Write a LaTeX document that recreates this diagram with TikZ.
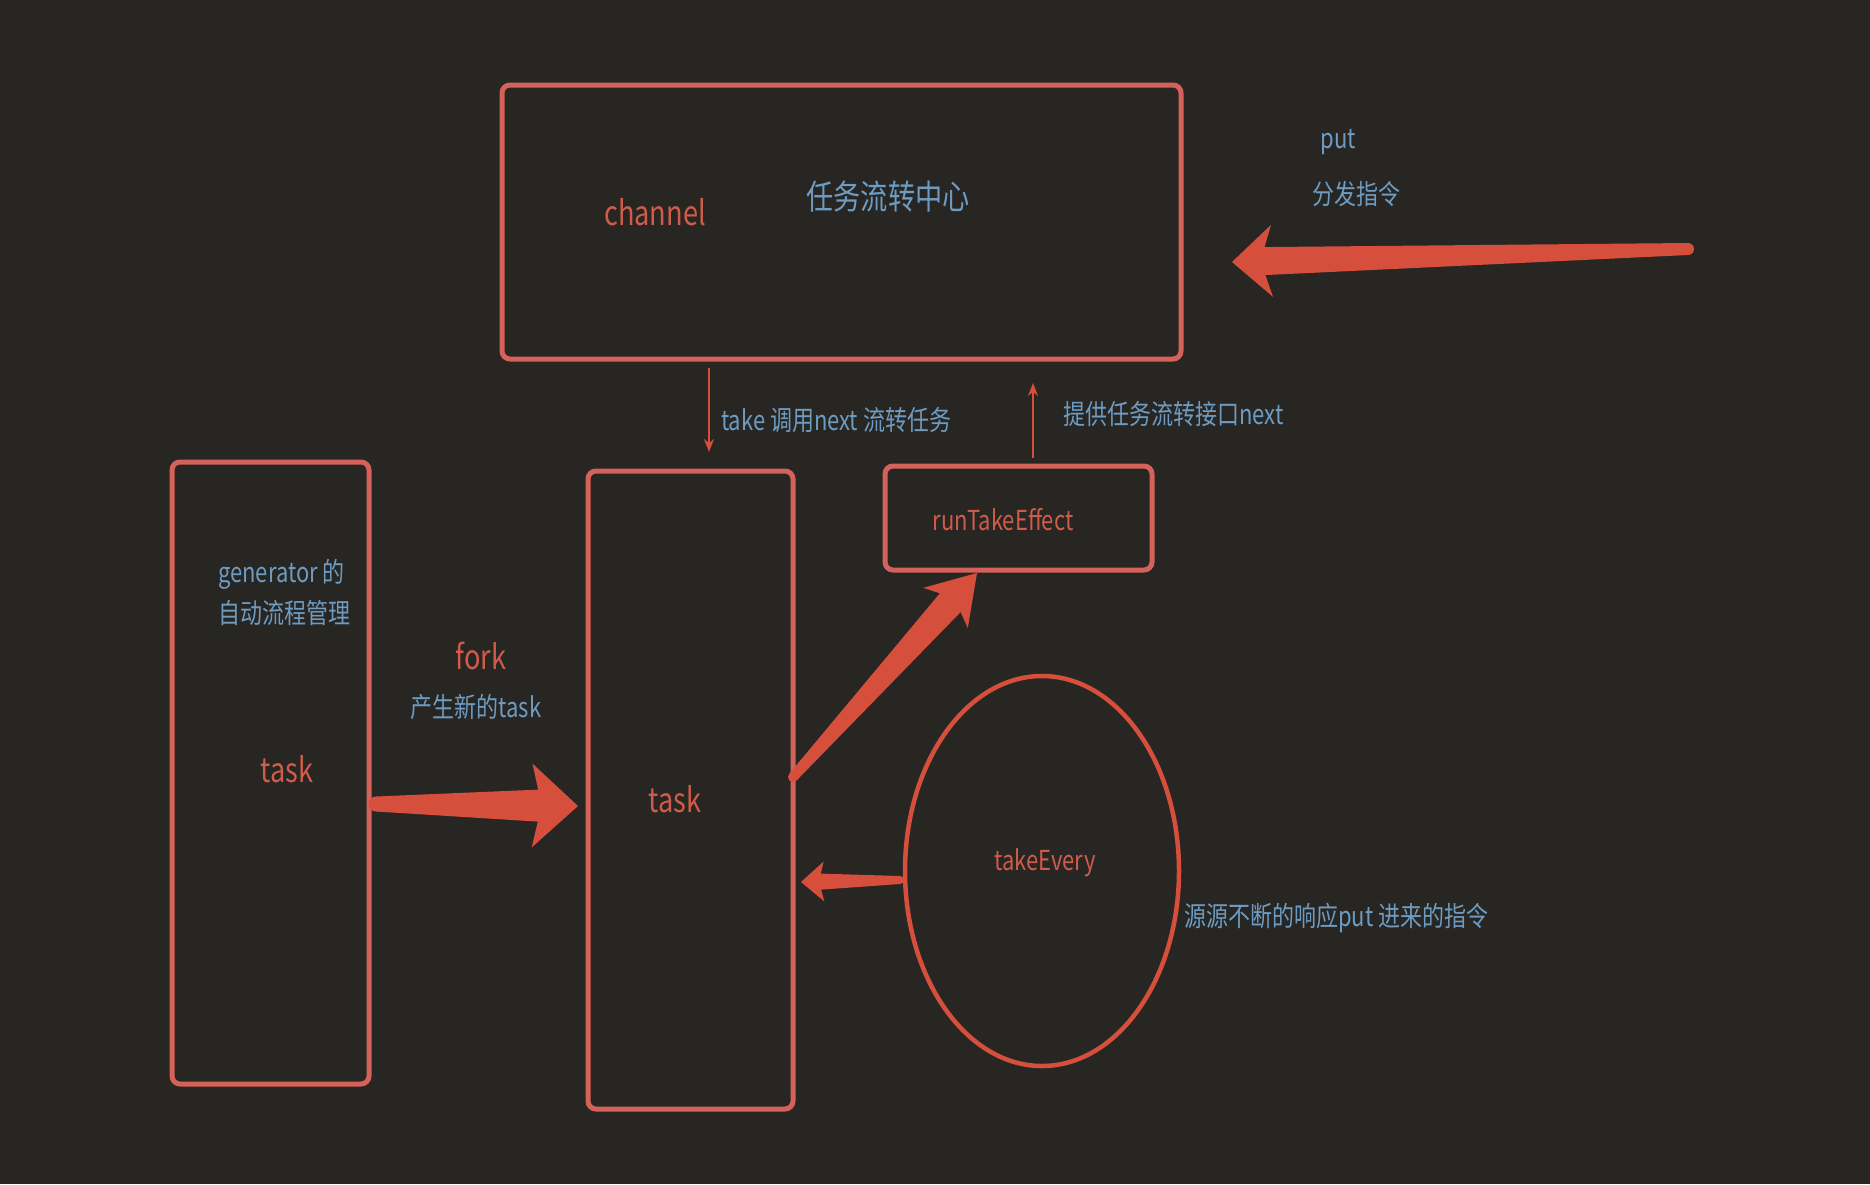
\documentclass[tikz,border=0pt]{standalone}
\usepackage{fontspec}
\setmainfont{Noto Sans CJK SC}[FakeStretch=0.8]
\usetikzlibrary{calc,arrows.meta,shapes.geometric}
\definecolor{bg}{HTML}{272623}
\definecolor{boxred}{HTML}{D4625A}
\definecolor{arrred}{HTML}{D64F3C}
\definecolor{txtblue}{HTML}{6E9BC1}
\definecolor{txtred}{HTML}{CF5B4B}
% #1 tail, #2 tip, #3 tail half width, #4 shaft half width at join,
% #5 join distance from tip, #6 barb distance from tip, #7 head half width
\newcommand\fatarr[7]{%
  \coordinate (fj) at ($(#2)!#5!(#1)$);
  \coordinate (fb) at ($(#2)!#6!(#1)$);
  \fill[arrred] ($(#1)!#3!90:(#2)$) -- ($(fj)!#4!90:(#2)$) -- ($(fb)!#7!90:(#2)$)
     -- (#2) -- ($(fb)!#7!-90:(#2)$) -- ($(fj)!#4!-90:(#2)$) -- ($(#1)!#3!-90:(#2)$) -- cycle;
  \fill[arrred] (#1) circle (#3);
}
\tikzset{
  box/.style={draw=boxred, line width=5pt, rounded corners=8pt, inner sep=0pt, outer sep=0pt},
  oval/.style={ellipse, draw=arrred, line width=4.5pt, inner sep=0pt, outer sep=0pt},
  big/.style={inner sep=0pt, font=\fontsize{34}{40}\selectfont},
  small/.style={inner sep=0pt, font=\fontsize{27.5}{41}\selectfont},
  thinarr/.style={draw=arrred, line width=2.5pt, -{Stealth[length=13pt,width=10pt]}},
}
\begin{document}
\begin{tikzpicture}[x=1pt,y=-1pt]
\fill[bg] (0,0) rectangle (1870,1184);
\useasboundingbox (0,0) rectangle (1870,1184);

% boxes
\node[box, minimum width=679pt, minimum height=274pt] (channel) at (841.5,222) {};
\node[box, minimum width=197pt, minimum height=622pt] (lefttask) at (270.5,773) {};
\node[box, minimum width=205pt, minimum height=638pt] (midtask) at (690.5,790) {};
\node[box, minimum width=267pt, minimum height=104pt] (rte) at (1018.5,518) {};
\node[oval, minimum width=274pt, minimum height=390pt] (every) at (1042,871) {};

% texts
\node[big, text=txtred] (tchannel) at (655,212) {channel};
\node[big, text=txtblue] (tcenter) at (888,197) {任务流转中心};
\node[small, text=txtblue] (tput) at (1338,142) {put};
\node[small, text=txtblue] (tdispatch) at (1356,194) {分发指令};
\node[small, text=txtblue, anchor=west] (ttake) at (721,420) {take 调用next 流转任务};
\node[small, text=txtblue, anchor=west] (tprovide) at (1063,414) {提供任务流转接口next};
\node[small, text=txtred] (trte) at (1003,520) {runTakeEffect};
\node[small, text=txtblue, anchor=west, align=left] (tgen) at (218,592) {generator 的\\自动流程管理};
\node[big, text=txtred] (tlefttask) at (287,769) {task};
\node[big, text=txtred] (tfork) at (481,656) {fork};
\node[small, text=txtblue] (tnew) at (476,707) {产生新的task};
\node[big, text=txtred] (tmidtask) at (675,799) {task};
\node[small, text=txtred] (tevery) at (1045,863) {takeEvery};
\node[small, text=txtblue, anchor=west] (tsource) at (1184,918) {源源不断的响应put 进来的指令};

% fat arrows
\coordinate (putTail) at (1688,249);
\coordinate (putTip) at ($(channel.east)+(51,40)$);
\fatarr{putTail}{putTip}{6pt}{14pt}{33pt}{40pt}{36pt}

\coordinate (forkTail) at ($(lefttask.east)+(7,31)$);
\coordinate (forkTip) at ($(midtask.west)+(-10,16)$);
\fatarr{forkTail}{forkTip}{7.5pt}{16pt}{40pt}{46pt}{42pt}

\coordinate (diagTail) at ($(midtask.east)+(0,-13)$);
\coordinate (diagTip) at ($(rte.south)+(-41.5,3)$);
\fatarr{diagTail}{diagTip}{5pt}{14pt}{40pt}{47pt}{30pt}

\coordinate (evTail) at ($(every.west)+(-5,9)$);
\coordinate (evTip) at ($(midtask.east)+(8,92)$);
\fatarr{evTail}{evTip}{4pt}{8pt}{20pt}{23pt}{20pt}

% thin arrows
\draw[thinarr] ($(channel.south west)+(207,9)$) -- ($(midtask.north west)+(121,-19)$);
\draw[thinarr] ($(rte.north west)+(148,-8)$) -- ($(channel.south west)+(531,24)$);
\end{tikzpicture}
\end{document}
